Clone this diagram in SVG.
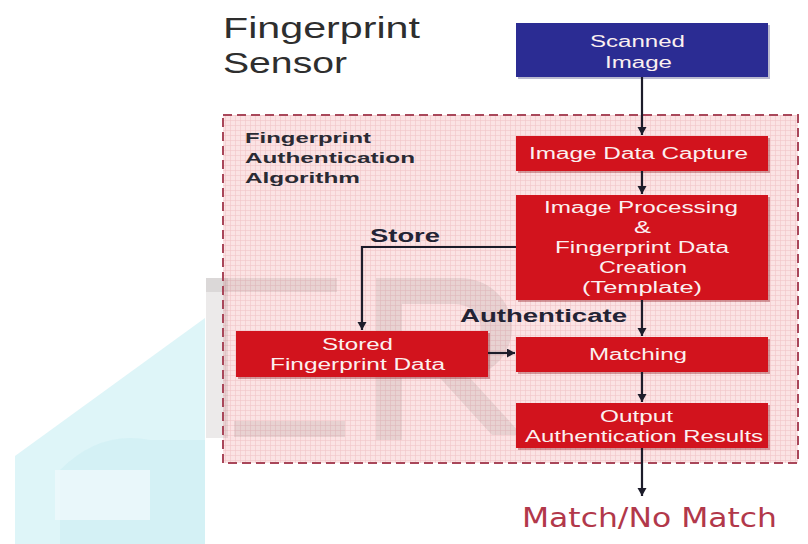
<svg xmlns="http://www.w3.org/2000/svg" width="808" height="544" viewBox="0 0 808 544">
<defs>
<style>
.box{fill:#d2131d}
.shadow{fill:#8a0a10;opacity:0.35}
.bt{font-family:"Liberation Sans",Arial,sans-serif;font-size:16px;fill:#fbf0f0}
.lbl{font-family:"Liberation Sans",Arial,sans-serif;font-weight:bold;font-size:18px;fill:#232334}
.algo{font-family:"Liberation Sans",Arial,sans-serif;font-weight:bold;font-size:15px;fill:#2a2a33}
.title{font-family:"Liberation Sans",Arial,sans-serif;font-size:29px;fill:#2e2e2e}
.res{font-family:"DejaVu Sans",Verdana,sans-serif;font-size:26px;fill:#b2384a}
.conn{fill:none;stroke:#1c1c2a;stroke-width:2.2}
.wm{fill:#7a6a6a;opacity:0.14}
</style>
<pattern id="grid" width="5" height="5" patternUnits="userSpaceOnUse">
<rect width="5" height="5" fill="#fbe3e4"/>
<path d="M0,0.3H5M0.3,0V5" stroke="#efc2c6" stroke-width="0.7"/>
</pattern>
<marker id="arr" markerUnits="userSpaceOnUse" markerWidth="10" markerHeight="10" refX="8" refY="4.5" orient="auto">
<path d="M0,0 L8,4.5 L0,9 z" fill="#1c1c2a"/>
</marker>
</defs>
<rect width="808" height="544" fill="#ffffff"/>
<g id="watermark-cyan">
<polygon points="15,456 205,318 205,544 15,544" fill="#def5f8"/>
<path d="M60,470 Q100,430 150,440 L205,440 L205,544 L60,544 Z" fill="#cdeff4" opacity="0.6"/>
<rect x="55" y="470" width="95" height="50" fill="#eef9fb" opacity="0.8"/>
</g>
<rect id="algorithm-area" x="223" y="115" width="575" height="348" fill="url(#grid)"/>
<g id="watermark-gray">
<rect class="wm" x="206" y="278" width="131" height="14"/>
<rect class="wm" x="206" y="278" width="22" height="160"/>
<rect class="wm" x="234" y="421" width="111" height="16"/>
<rect class="wm" x="376" y="278" width="26" height="162"/>
<path class="wm" d="M402,278 H460 A52,50 0 0 1 460,378 H402 V352 H455 A26,24 0 0 0 455,304 H402 Z"/>
<polygon class="wm" points="440,378 470,378 522,435 492,435"/>
</g>
<rect x="223" y="115" width="575" height="348" fill="none" stroke="#a9475a" stroke-width="2" stroke-dasharray="9 5"/>
<g id="title">
<text class="title" x="223" y="38" textLength="197" lengthAdjust="spacingAndGlyphs">Fingerprint</text>
<text class="title" x="223" y="73" textLength="124" lengthAdjust="spacingAndGlyphs">Sensor</text>
</g>
<g id="algorithm-label">
<text class="algo" x="245" y="143" textLength="126" lengthAdjust="spacingAndGlyphs">Fingerprint</text>
<text class="algo" x="245" y="163" textLength="170" lengthAdjust="spacingAndGlyphs">Authentication</text>
<text class="algo" x="245" y="183" textLength="115" lengthAdjust="spacingAndGlyphs">Algorithm</text>
</g>
<g id="scanned-image">
<rect x="518" y="25" width="252" height="54" fill="#1a1a60" opacity="0.3"/>
<rect x="516" y="23" width="252" height="54" fill="#2b2c93"/>
<text class="bt" x="590" y="47" textLength="95" lengthAdjust="spacingAndGlyphs" fill="#ecebf6">Scanned</text>
<text class="bt" x="605" y="68" textLength="67" lengthAdjust="spacingAndGlyphs">Image</text>
</g>
<g id="image-data-capture">
<rect class="shadow" x="518" y="138" width="252" height="35"/>
<rect class="box" x="516" y="136" width="252" height="35"/>
<text class="bt" x="529" y="159" textLength="219" lengthAdjust="spacingAndGlyphs">Image Data Capture</text>
</g>
<g id="image-processing">
<rect class="shadow" x="518" y="197" width="252" height="105"/>
<rect class="box" x="516" y="195" width="252" height="105"/>
<text class="bt" x="544" y="213" textLength="194" lengthAdjust="spacingAndGlyphs">Image Processing</text>
<text class="bt" x="634" y="233" textLength="17" lengthAdjust="spacingAndGlyphs">&amp;</text>
<text class="bt" x="555" y="253" textLength="174" lengthAdjust="spacingAndGlyphs">Fingerprint Data</text>
<text class="bt" x="599" y="273" textLength="88" lengthAdjust="spacingAndGlyphs">Creation</text>
<text class="bt" x="582" y="293" textLength="120" lengthAdjust="spacingAndGlyphs">(Template)</text>
</g>
<g id="stored-data">
<rect class="shadow" x="238" y="333" width="252" height="46"/>
<rect class="box" x="236" y="331" width="252" height="46"/>
<text class="bt" x="322" y="350" textLength="71" lengthAdjust="spacingAndGlyphs">Stored</text>
<text class="bt" x="270" y="370" textLength="175" lengthAdjust="spacingAndGlyphs">Fingerprint Data</text>
</g>
<g id="matching">
<rect class="shadow" x="518" y="339" width="252" height="35"/>
<rect class="box" x="516" y="337" width="252" height="35"/>
<text class="bt" x="589" y="360" textLength="98" lengthAdjust="spacingAndGlyphs">Matching</text>
</g>
<g id="output-results">
<rect class="shadow" x="518" y="405" width="252" height="45"/>
<rect class="box" x="516" y="403" width="252" height="45"/>
<text class="bt" x="600" y="422" textLength="73" lengthAdjust="spacingAndGlyphs">Output</text>
<text class="bt" x="525" y="442" textLength="238" lengthAdjust="spacingAndGlyphs">Authentication Results</text>
</g>
<g id="connectors">
<path class="conn" d="M642,77 V135" marker-end="url(#arr)"/>
<path class="conn" d="M642,171 V194" marker-end="url(#arr)"/>
<path class="conn" d="M516,247 H362 V330" marker-end="url(#arr)"/>
<path class="conn" d="M642,300 V336" marker-end="url(#arr)"/>
<path class="conn" d="M488,353 H515" marker-end="url(#arr)"/>
<path class="conn" d="M642,372 V402" marker-end="url(#arr)"/>
<path class="conn" d="M642,448 V496" marker-end="url(#arr)"/>
</g>
<g id="connector-labels">
<text class="lbl" x="370" y="242" textLength="70" lengthAdjust="spacingAndGlyphs">Store</text>
<text class="lbl" x="460" y="322" textLength="167" lengthAdjust="spacingAndGlyphs">Authenticate</text>
</g>
<g id="result">
<text class="res" x="522" y="527" textLength="255" lengthAdjust="spacingAndGlyphs">Match/No Match</text>
</g>
</svg>
